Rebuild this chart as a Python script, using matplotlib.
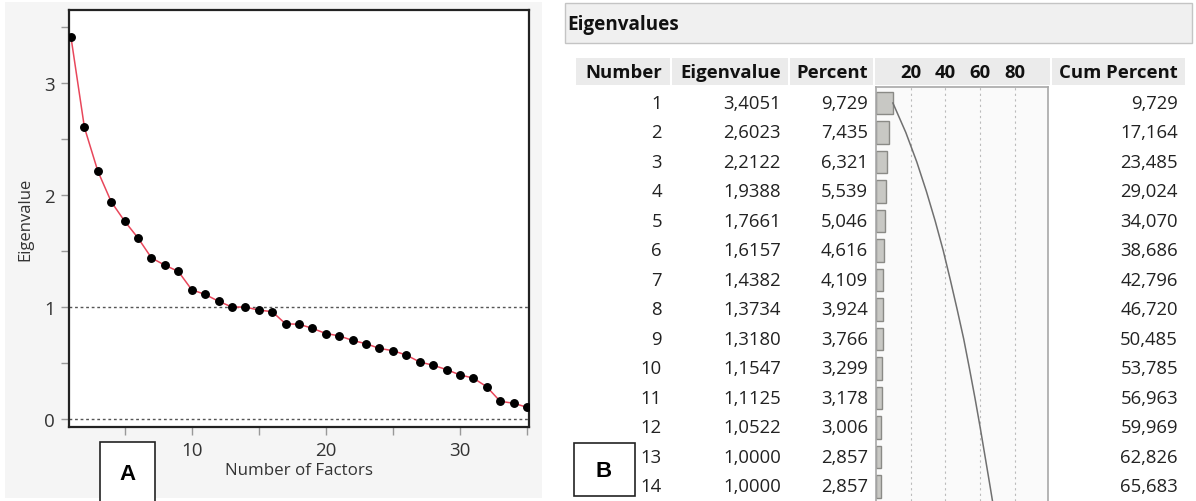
import numpy as np
import matplotlib
matplotlib.use("Agg")
import matplotlib.pyplot as plt
from matplotlib.patches import Rectangle

plt.rcParams['font.family'] = ['Open Sans', 'DejaVu Sans']

# scree plot values (first 14 from the table, the rest)
scree_values = [3.4051, 2.6023, 2.2122, 1.9388, 1.7661, 1.6157, 1.4382, 1.3734,
                1.3180, 1.1547, 1.1125, 1.0522, 1.0000, 1.0000, 0.973, 0.959,
                0.850, 0.847, 0.810, 0.764, 0.743, 0.702, 0.673, 0.631, 0.611,
                0.572, 0.510, 0.481, 0.442, 0.395, 0.366, 0.289, 0.159, 0.142,
                0.106]

# table values
numbers = list(range(1, 15))
eigenvalues = [3.4051, 2.6023, 2.2122, 1.9388, 1.7661, 1.6157, 1.4382, 1.3734,
               1.3180, 1.1547, 1.1125, 1.0522, 1.0000, 1.0000]
percents = [9.729, 7.435, 6.321, 5.539, 5.046, 4.616, 4.109, 3.924, 3.766,
            3.299, 3.178, 3.006, 2.857, 2.857]
cum_percents = [9.729, 17.164, 23.485, 29.024, 34.070, 38.686, 42.796, 46.720,
                50.485, 53.785, 56.963, 59.969, 62.826, 65.683]
bar_ticks = [20, 40, 60, 80]

W, H = 1196, 502
fig = plt.figure(figsize=(W / 100, H / 100), dpi=100)
fig.patch.set_facecolor('white')


def px_axes(x0, y0, x1, y1, **kw):
    # axes from pixel box (top-left origin)
    return fig.add_axes([x0 / W, 1 - y1 / H, (x1 - x0) / W, (y1 - y0) / H], **kw)


# background canvas in pixels
bg = px_axes(0, 0, W, H)
bg.set_xlim(0, W)
bg.set_ylim(H, 0)
bg.axis('off')
bg.add_patch(Rectangle((5, 3), 537, 496, facecolor='#f5f5f5', edgecolor='none'))

# ---- A: scree plot ----
ax = px_axes(69, 11, 529, 428)
ax.set_facecolor('white')
n = np.arange(1, len(scree_values) + 1)
ax.axhline(1, color='#555555', lw=1, ls=(0, (2, 2)), zorder=1)
ax.axhline(0, color='#555555', lw=1, ls=(0, (2, 2)), zorder=1)
ax.plot(n, scree_values, color='#e8475b', lw=1.1, zorder=2)
ax.plot(n, scree_values, 'o', color='black', ms=5.4, zorder=3)
ax.set_xlim(0.85, 35.15)
ax.set_ylim(-0.07, 3.65)
ax.set_xticks([10, 20, 30])
ax.set_xticks([5, 15, 25, 35], minor=True)
ax.set_yticks([0, 1, 2, 3])
ax.set_yticks([0.5, 1.5, 2.5, 3.5], minor=True)
ax.tick_params(which='both', direction='out', length=6, width=1, color='#999999',
               labelsize=13.5, labelcolor='#333333', pad=4)
for s in ax.spines.values():
    s.set_linewidth(1.6)
    s.set_color('#222222')
ax.set_xlabel('Number of Factors', fontsize=12.2, color='#333333', labelpad=2)
ax.set_ylabel('Eigenvalue', fontsize=12, color='#333333', labelpad=8)

bg.add_patch(Rectangle((100, 443), 55, 70, facecolor='white', edgecolor='#222222', lw=1.2))
bg.text(128, 475, 'A', fontsize=16, fontweight='bold', ha='center', va='center',
        family='Liberation Sans')

# ---- B: eigenvalue table ----
bg.add_patch(Rectangle((565, 4), 627, 40, facecolor='#f0f0f0', edgecolor='#c4c4c4', lw=1))
bg.text(567, 25, 'Eigenvalues', fontsize=13.6, fontweight='bold', ha='left', va='center',
        color='#111111')

header_y0, header_y1 = 59, 86
cells = [(576, 670, 'Number', 662), (672, 788, 'Eigenvalue', 781),
         (790, 873, 'Percent', 868), (1052, 1185, 'Cum Percent', 1178)]
for x0, x1, label, xr in cells:
    bg.add_patch(Rectangle((x0, header_y0), x1 - x0, header_y1 - header_y0,
                           facecolor='#ebebeb', edgecolor='none'))
    bg.text(xr, 73, label, fontsize=13.3, fontweight='bold', ha='right', va='center',
            color='#111111')
bg.add_patch(Rectangle((875, header_y0), 175, header_y1 - header_y0,
                       facecolor='#ebebeb', edgecolor='none'))

row0, step = 104, 29.5
body = dict(fontsize=13.3, ha='right', va='center', color='#222222')
for i in range(len(numbers)):
    y = row0 + i * step
    bg.text(662, y, str(numbers[i]), **body)
    bg.text(781, y, f"{eigenvalues[i]:.4f}".replace('.', ','), **body)
    bg.text(868, y, f"{percents[i]:.3f}".replace('.', ','), **body)
    bg.text(1178, y, f"{cum_percents[i]:.3f}".replace('.', ','), **body)

# bar column
bx = px_axes(876, 88, 1048, H)
bx.set_facecolor('#fafafa')
bx.set_xlim(0, 99)
top = 1 - (row0 - 88) / step
bottom = 1 + (H - row0) / step
bx.set_ylim(bottom, top)
for t in bar_ticks:
    bx.axvline(t, color='#bbbbbb', lw=0.8, ls=(0, (2, 3)), zorder=1)
bx.barh(numbers, percents, height=0.75, color='#c8c8c4', edgecolor='#8a8a86',
        lw=1, zorder=2)
line_cum = cum_percents + [cum_percents[-1] + scree_values[14] / sum(scree_values) * 100]
bx.plot(line_cum, range(1, len(line_cum) + 1), color='#707070', lw=1.1, zorder=3)
bx.set_xticks([])
bx.set_yticks([])
for k, s in bx.spines.items():
    s.set_color('#a8a8a8')
    s.set_linewidth(1.2)
bx.spines['bottom'].set_visible(False)
for t in bar_ticks:
    bg.text(876 + t * 172 / 99, 73, str(t), fontsize=13.3, fontweight='bold',
            ha='center', va='center', color='#111111')

bg.add_patch(Rectangle((574, 444), 61, 53, facecolor='white', edgecolor='#222222', lw=1.2))
bg.text(604, 472, 'B', fontsize=16, fontweight='bold', ha='center', va='center',
        family='Liberation Sans')

bg.set_zorder(-1)
fig.savefig('out.png', dpi=100)
